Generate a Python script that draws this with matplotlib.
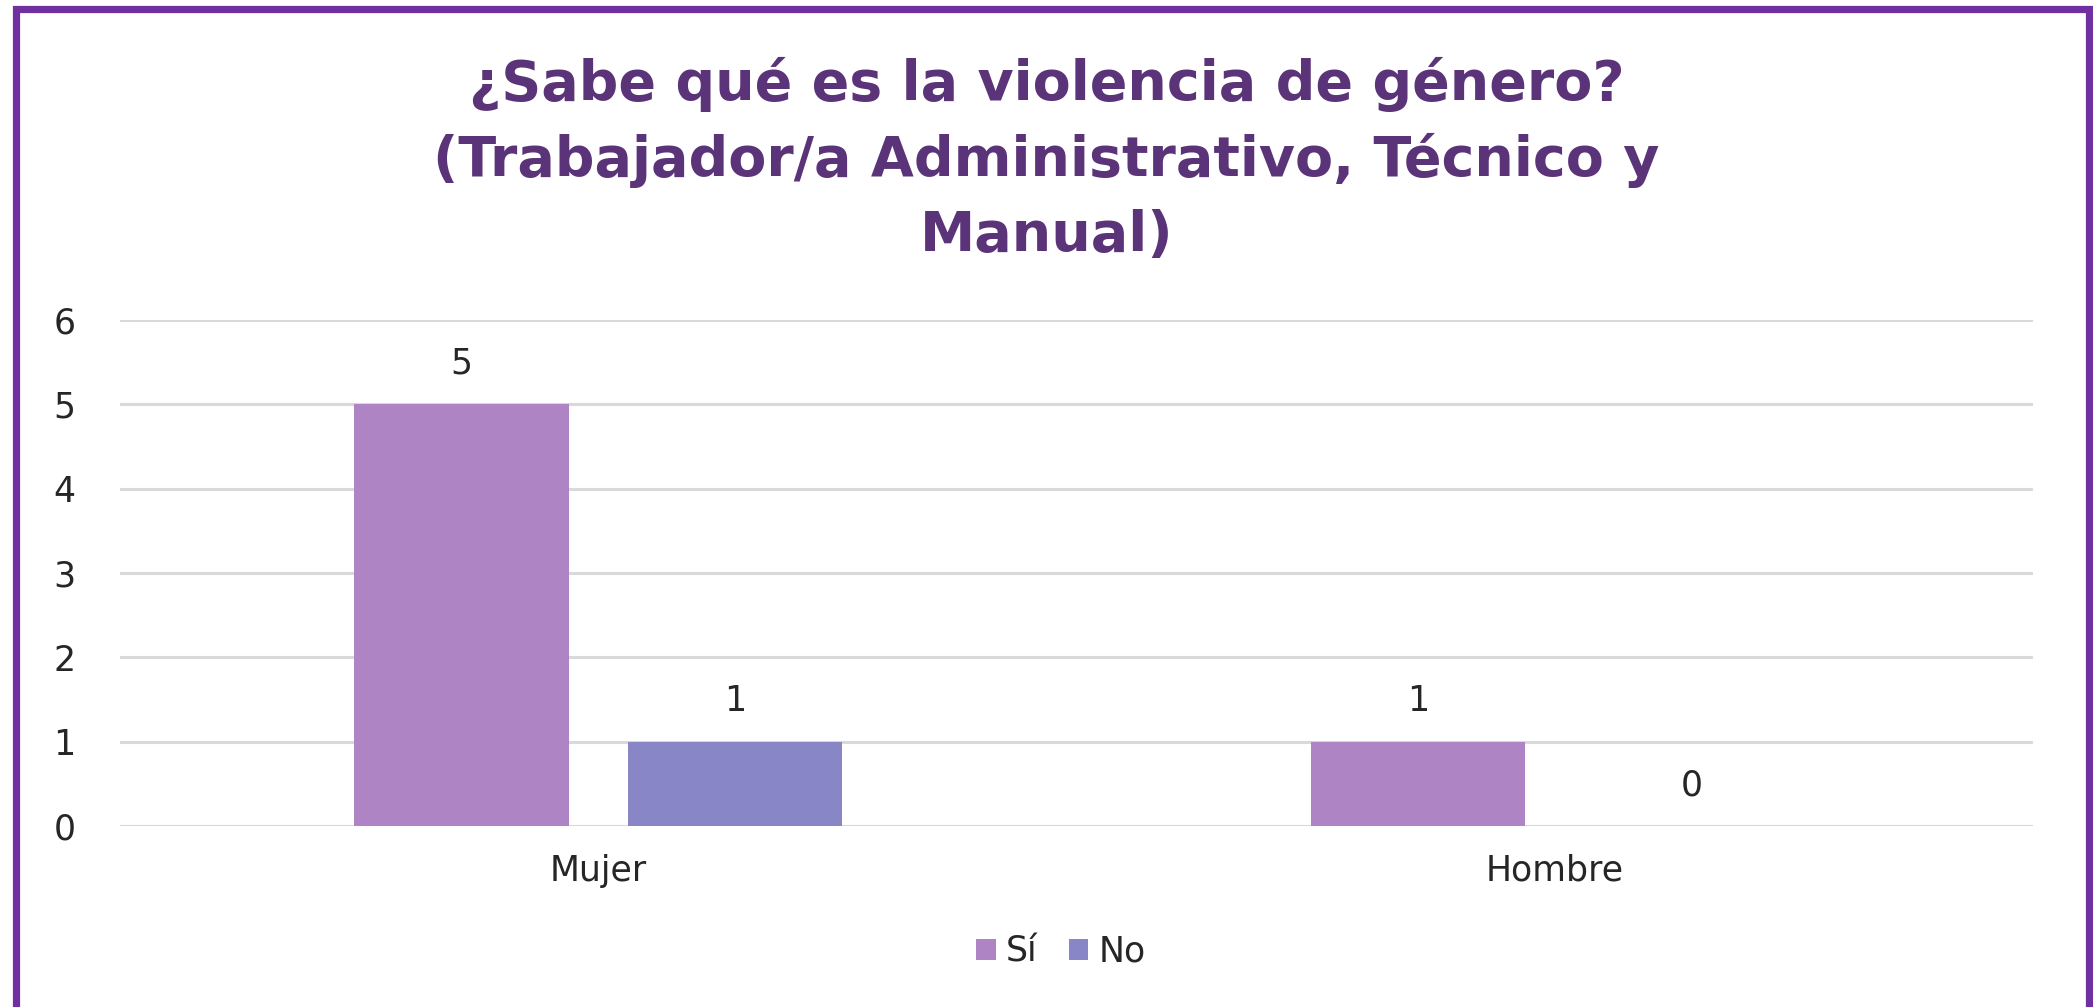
import matplotlib.pyplot as plt
from matplotlib.patches import Rectangle
import numpy as np

categories = ["Mujer", "Hombre"]
series_names = ["Sí", "No"]
si_values = [5, 1]
no_values = [1, 0]
y_ticks = [0, 1, 2, 3, 4, 5, 6]

title = "¿Sabe qué es la violencia de género?\n(Trabajador/a Administrativo, Técnico y\nManual)"

W, H = 2093, 1007
fig = plt.figure(figsize=(W / 100, H / 100), dpi=100)
fig.patch.set_facecolor("white")

# purple frame (bottom edge is cut off in the original)
frame = Rectangle((15.5 / W, -0.05), (2089 - 15.5) / W, 1.05 - 9.4 / H,
                  transform=fig.transFigure, fill=False, edgecolor="#7030A0",
                  linewidth=5.2, clip_on=False)
fig.patches.append(frame)

ax = fig.add_axes([120 / W, 181 / H, (2033 - 120) / W, (826 - 320) / H])

x = np.arange(len(categories))
width = 0.224
offset = 0.143
b1 = ax.bar(x - offset, si_values, width, color="#AE84C4", label=series_names[0], zorder=3)
b2 = ax.bar(x + offset, no_values, width, color="#8886C6", label=series_names[1], zorder=3)

txt = "#262626"
fnt = "DejaVu Sans"
for bars in (b1, b2):
    ax.bar_label(bars, padding=17, fontsize=25, color=txt, family=fnt)

ax.set_xlim(-0.5, 1.5)
ax.set_ylim(0, 6)
ax.set_yticks(y_ticks)
ax.set_xticks(x)
ax.set_xticklabels(categories)
ax.tick_params(axis="both", length=0, labelsize=25, colors=txt)
ax.tick_params(axis="x", pad=20)
ax.tick_params(axis="y", pad=32)
for lab in ax.get_xticklabels() + ax.get_yticklabels():
    lab.set_family(fnt)
ax.grid(axis="y", color="#D9D9D9", linewidth=2.2, zorder=0)
for s in ax.spines.values():
    s.set_visible(False)

fig.text(0.5, 1 - 160 / H, title, ha="center", va="center", fontsize=40,
         fontweight="bold", color="#5B3379", family=fnt, linespacing=1.5)

fig.legend(loc="center", bbox_to_anchor=(1061 / W, 55 / H), ncol=2, frameon=False,
           prop={"family": fnt, "size": 25}, handlelength=0.55,
           handleheight=0.55, handletextpad=0.3, columnspacing=0.9, labelcolor=txt)

fig.savefig("out.png", dpi=100, facecolor="white")
